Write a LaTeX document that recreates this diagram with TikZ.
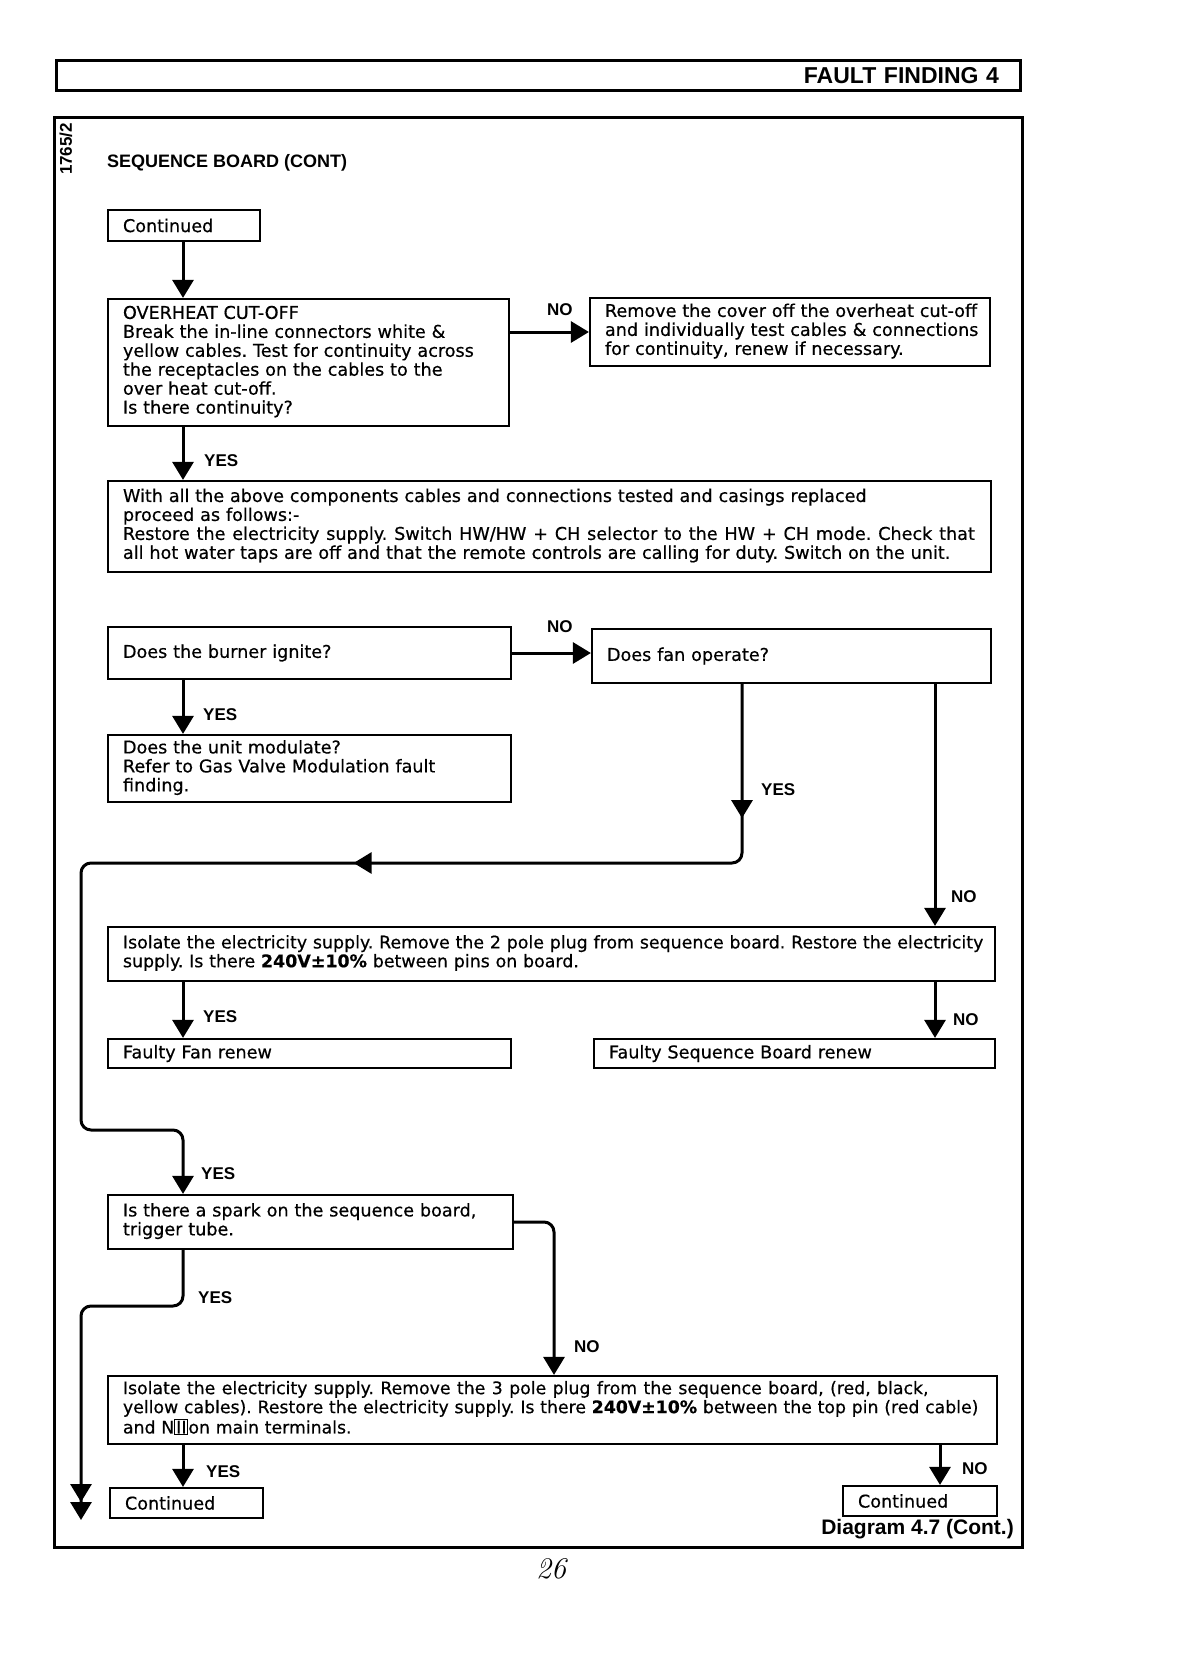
\documentclass[tikz,border=0pt]{standalone}
\usepackage{fontspec}
\newfontfamily\bfont{DejaVu Sans}[FakeBold=0.5]
\newfontfamily\hfont{Liberation Sans}
\usetikzlibrary{arrows.meta,decorations.markings,calc}
\newcommand\TL[1]{\begin{tabular}{@{}l@{}}#1\end{tabular}}
\newcommand\WideSp[2]{{\spaceskip=#1\fontdimen2\font #2}}
\tikzset{
  box/.style={draw, line width=2.2pt, rectangle, inner xsep=15pt, inner ysep=0pt, align=left,
    font=\bfont\fontsize{17.6}{18.6}\selectfont},
  conn/.style={line width=3pt},
  tipT/.tip={Triangle[length=18pt,width=21pt]},
  arr/.style={conn, -{tipT}},
  lab/.style={font=\hfont\bfseries\fontsize{17}{17}\selectfont, anchor=west, inner sep=0pt},
}
\begin{document}
\frenchspacing
\renewcommand\arraystretch{1}
\begin{tikzpicture}[x=1pt,y=-1pt]
\useasboundingbox[fill=white] (0,0) rectangle (1180,1670);

% header and frame
\node[draw, line width=3pt, text width=922pt, inner xsep=21pt, inner ysep=0pt, minimum height=29pt,
  align=right, font=\hfont\bfseries\fontsize{23}{23}\selectfont] (hdr) at (538,75.5) {FAULT FINDING 4};
\node[draw, line width=3pt, minimum width=968pt, minimum height=1430pt, inner sep=0pt] (frame) at (538,832) {};
\node[rotate=90, inner sep=0pt, font=\hfont\bfseries\fontsize{17}{17}\selectfont] (code) at (66,149) {1765/2};
\node[anchor=west, inner sep=0pt, font=\hfont\bfseries\fontsize{18}{18}\selectfont] (title) at (107,163) {SEQUENCE BOARD (CONT)};

% boxes
\node[box, text width=122pt, minimum height=31pt] (cont1) at (184,225.5) {Continued};
\node[box, text width=371pt, minimum height=127pt] (oh) at (308.5,362.5)
 {\TL{OVERHEAT CUT-OFF\\ Break the in-line connectors white \&\\ yellow cables. Test for continuity across\\ the receptacles on the cables to the\\ over heat cut-off.\\ Is there continuity?}};
\node[box, text width=370pt, minimum height=68pt] (rem) at (790,332)
 {\TL{Remove the cover off the overheat cut-off\\ and individually test cables \& connections\\ for continuity, renew if necessary.}};
\node[box, text width=853pt, minimum height=91pt] (with) at (549.5,526.5)
 {\TL{With all the above components cables and connections tested and casings replaced\\ proceed as follows:-\\ \WideSp{1.22}{Restore the electricity supply. Switch HW/HW + CH selector to the HW + CH mode. Check that}\\ all hot water taps are off and that the remote controls are calling for duty. Switch on the unit.}};
\node[box, text width=373pt, minimum height=52pt] (burn) at (309.5,653) {Does the burner ignite?};
\node[box, text width=369pt, minimum height=54pt] (fan) at (791.5,656) {Does fan operate?};
\node[box, text width=373pt, minimum height=67pt] (mod) at (309.5,768.5)
 {\TL{Does the unit modulate?\\ Refer to Gas Valve Modulation fault\\ finding.}};
\node[box, text width=857pt, minimum height=54pt, font=\bfont\fontsize{17.4}{18.6}\selectfont] (iso2) at (551.5,954)
 {\TL{Isolate the electricity supply. Remove the 2 pole plug from sequence board. Restore the electricity\\ supply. Is there {\bfseries 240V±10\%} between pins on board.}};
\node[box, text width=373pt, minimum height=29pt] (ffan) at (309.5,1053.5) {Faulty Fan renew};
\node[box, text width=371pt, minimum height=29pt] (fseq) at (794.5,1053.5) {Faulty Sequence Board renew};
\node[box, text width=375pt, minimum height=54pt] (spark) at (310.5,1222)
 {\TL{Is there a spark on the sequence board,\\ trigger tube.}};
\node[box, text width=859pt, minimum height=68pt, font=\bfont\fontsize{17.3}{19}\selectfont] (iso3) at (552.5,1410)
 {\TL{\WideSp{1.17}{Isolate the electricity supply. Remove the 3 pole plug from the sequence board, (red, black,}\\ yellow cables). Restore the electricity supply. Is there {\bfseries 240V±10\%} between the top pin (red cable)\\ and N{\setlength\fboxsep{0.8pt}\setlength\fboxrule{1.2pt}\fbox{II}}on main terminals.}};
\node[box, text width=123pt, minimum height=30pt] (cont2) at (186.5,1503) {Continued};
\node[box, text width=124pt, minimum height=30pt] (cont3) at (920,1501) {Continued};

\node[anchor=east, inner sep=0pt, font=\hfont\bfseries\fontsize{21}{21}\selectfont] (diag) at (1014,1529) {Diagram 4.7 (Cont.)};
\node[inner sep=0pt, font=\itshape\fontsize{30}{30}\selectfont] (page) at (551,1569) {26};

% column coordinates
\coordinate (cL) at (183,0);
\coordinate (cY) at (742,0);
\coordinate (cN) at (935,0);
\coordinate (cS) at (554,0);
\coordinate (cR) at (940,0);
\coordinate (lt) at (81,863);
\coordinate (lb) at (81,1130);
\coordinate (sy) at (81,1306);
\coordinate (se) at (81,1520);

% connectors
\draw[arr] (cont1.south -| cL) -- (oh.north -| cL);
\draw[arr] (oh.east |- rem.west) -- (rem.west);
\draw[arr] (oh.south -| cL) -- (with.north -| cL);
\draw[arr] (burn.east) -- (burn.east -| fan.west);
\draw[arr] (burn.south -| cL) -- (mod.north -| cL);
\draw[arr, rounded corners=10pt, postaction={decorate},
  decoration={markings, mark=at position 134pt with {\arrow{tipT}}, mark=at position 563pt with {\arrow{tipT}}}]
  (fan.south -| cY) |- (lt) -- (lb) -| (spark.north -| cL);
\draw[arr] (fan.south -| cN) -- (iso2.north -| cN);
\draw[arr] (iso2.south -| cL) -- (ffan.north -| cL);
\draw[arr] (iso2.south -| cN) -- (fseq.north -| cN);
\draw[conn, rounded corners=10pt, -{tipT[sep=0pt] tipT}] (spark.south -| cL) |- (sy) -- (se);
\draw[arr, rounded corners=10pt] (spark.east) -| (iso3.north -| cS);
\draw[arr] (iso3.south -| cL) -- (cont2.north -| cL);
\draw[arr] (iso3.south -| cR) -- (cont3.north -| cR);

% labels
\node[lab] (n1) at (547,310) {NO};
\node[lab] (y1) at (204,461) {YES};
\node[lab] (n2) at (547,627) {NO};
\node[lab] (y2) at (203,715) {YES};
\node[lab] (y3) at (761,790) {YES};
\node[lab] (n3) at (951,897) {NO};
\node[lab] (y4) at (203,1017) {YES};
\node[lab] (n4) at (953,1020) {NO};
\node[lab] (y5) at (201,1174) {YES};
\node[lab] (y6) at (198,1298) {YES};
\node[lab] (n5) at (574,1347) {NO};
\node[lab] (y7) at (206,1472) {YES};
\node[lab] (n6) at (962,1469) {NO};
\end{tikzpicture}
\end{document}
